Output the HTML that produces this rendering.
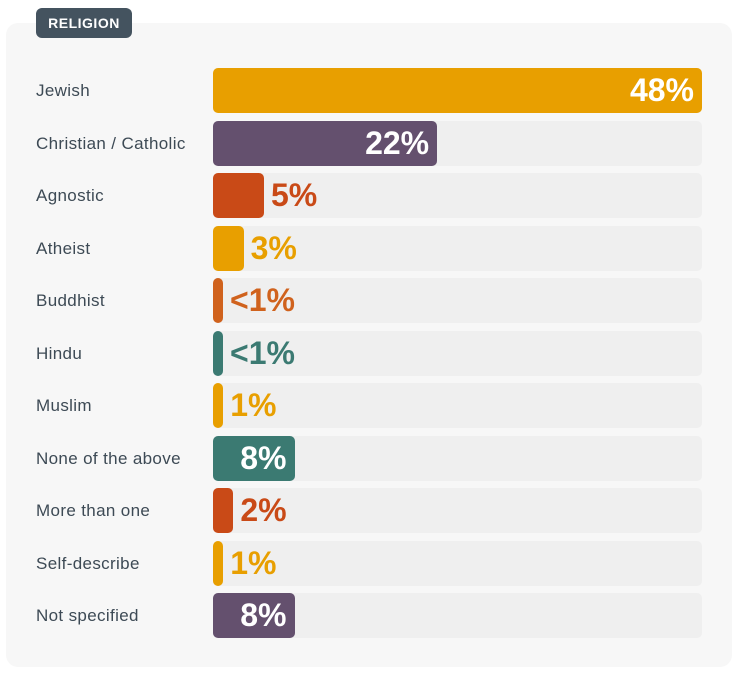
<!DOCTYPE html>
<html><head><meta charset="utf-8"><style>
body{margin:0;width:753px;height:680px;background:#fff;font-family:"Liberation Sans",sans-serif;position:relative;overflow:hidden}
.card{position:absolute;left:6px;top:23px;width:726px;height:644px;background:#f7f7f7;border-radius:12px}
.tag{position:absolute;left:36px;top:8px;width:96px;height:30px;background:#44535f;border-radius:6px;color:#fff;font-weight:bold;font-size:14px;letter-spacing:0.5px;line-height:30px;text-align:center}
.lbl{position:absolute;left:36px;font-size:17px;letter-spacing:0.35px;color:#3d4a55;line-height:45px}
.track{position:absolute;left:213px;width:489px;height:45px;background:#efefef;border-radius:5px}
.bar{position:absolute;left:213px;height:45px;border-radius:5px}
.val{position:absolute;font-weight:bold;font-size:32px;line-height:45px}
</style></head><body>
<div class="card"></div>
<div class="tag">RELIGION</div>
<div id="chart"></div>
<script>
const categories=["Jewish","Christian / Catholic","Agnostic","Atheist","Buddhist","Hindu","Muslim","None of the above","More than one","Self-describe","Not specified"];
const values=[48,22,5,3,0.5,0.5,1,8,2,1,8];
const valueLabels=["48%","22%","5%","3%","<1%","<1%","1%","8%","2%","1%","8%"];
const colors=["#e89f00","#64506e","#c94a17","#e89f00","#d0621d","#3b7a72","#e89f00","#3b7a72","#c94a17","#e89f00","#64506e"];
const maxV=48, W=489, x0=213, y0=68, step=52.5;
const xs=v=>Math.max(10,v/maxV*W);
const c=document.getElementById('chart');
categories.forEach((cat,i)=>{
 const y=y0+i*step;
 const l=document.createElement('div');l.className='lbl';l.style.top=y+'px';l.textContent=cat;
 
 
 c.appendChild(l);
 const t=document.createElement('div');t.className='track';t.style.top=y+'px';
 
 
 c.appendChild(t);
 const w=xs(values[i]);
 const b=document.createElement('div');b.className='bar';b.style.top=y+'px';b.style.width=w+'px';b.style.background=colors[i];
 
 
 c.appendChild(b);
 const v=document.createElement('div');v.className='val';v.style.top=y+'px';v.textContent=valueLabels[i];
 
 
 if(w>70){v.style.color='#fff';v.style.right=(753-(x0+w)+8)+'px';}
 else{v.style.color=colors[i];v.style.left=(x0+w+7)+'px';}
 c.appendChild(v);
});
</script>
</body></html>
